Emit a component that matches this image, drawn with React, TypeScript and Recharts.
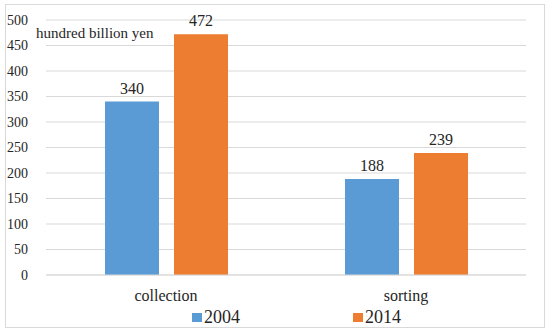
import { BarChart, Bar, XAxis, YAxis, CartesianGrid, Legend, LabelList } from 'recharts';

const categories = ['collection', 'sorting'];
const values2004 = [340, 188];
const values2014 = [472, 239];
const yTicks = [0, 50, 100, 150, 200, 250, 300, 350, 400, 450, 500];

const data = categories.map((name, i) => ({
  name,
  y2004: values2004[i],
  y2014: values2014[i],
}));

const FONT = 'Liberation Serif';
const TEXT = '#262626';

const LegendContent = (props: any) => {
  const { payload } = props;
  return (
    <div style={{ display: 'flex', paddingLeft: 192, gap: 113, height: 22, alignItems: 'center' }}>
      {(payload || []).map((entry: any) => (
        <div key={entry.value} style={{ display: 'flex', alignItems: 'center' }}>
          <span style={{ display: 'inline-block', width: 10, height: 9, background: entry.color, marginRight: 2 }} />
          <span style={{ fontFamily: FONT, fontSize: 18, color: TEXT, lineHeight: '20px' }}>{entry.value}</span>
        </div>
      ))}
    </div>
  );
};

const App = () => {
  return (
    <div style={{ position: 'absolute', left: 0, top: 0, width: 550, height: 335, background: '#fff', fontFamily: FONT }}>
      <div
        style={{
          position: 'absolute',
          left: 5,
          top: 4,
          width: 538,
          height: 322,
          border: '1px solid #d9d9d9',
        }}
      />
      <BarChart
        width={550}
        height={335}
        data={data}
        margin={{ top: 20, right: 24, left: 0, bottom: 7 }}
        barSize={54}
        barGap={15}
      >
        <CartesianGrid vertical={false} stroke="#d9d9d9" />
        <XAxis
          dataKey="name"
          axisLine={{ stroke: '#d9d9d9' }}
          tickLine={false}
          height={31}
          tick={{ fontFamily: FONT, fontSize: 16, fill: TEXT }}
          tickMargin={9}
        />
        <YAxis
          domain={[0, 500]}
          ticks={yTicks}
          width={46}
          axisLine={false}
          tickLine={false}
          interval={0}
          tick={{ fontFamily: FONT, fontSize: 14, fill: TEXT }}
          tickMargin={12}
        />
        <Legend verticalAlign="bottom" content={<LegendContent />} />
        <Bar dataKey="y2004" name="2004" fill="#5b9bd5" isAnimationActive={false}>
          <LabelList dataKey="y2004" position="top" offset={8} style={{ fontFamily: FONT, fontSize: 16, fill: TEXT }} />
        </Bar>
        <Bar dataKey="y2014" name="2014" fill="#ed7d31" isAnimationActive={false}>
          <LabelList dataKey="y2014" position="top" offset={8} style={{ fontFamily: FONT, fontSize: 16, fill: TEXT }} />
        </Bar>
      </BarChart>
      <div
        style={{
          position: 'absolute',
          left: 36,
          top: 25,
          fontSize: 15,
          color: TEXT,
          fontFamily: FONT,
          whiteSpace: 'nowrap',
        }}
      >
        hundred billion yen
      </div>
    </div>
  );
};

export default App;
